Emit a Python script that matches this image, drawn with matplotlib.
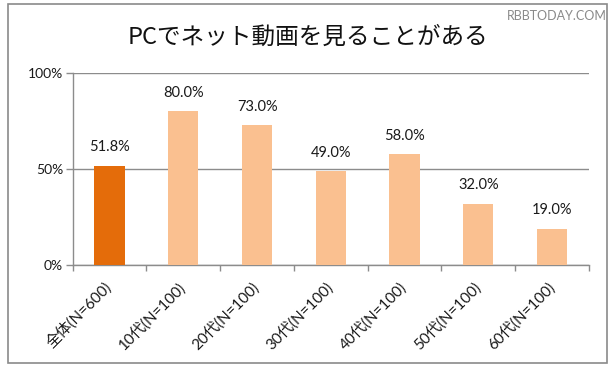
import numpy as np
import matplotlib.pyplot as plt
from matplotlib.patches import Rectangle

# data
categories = ['全体(N=600)', '10代(N=100)', '20代(N=100)', '30代(N=100)',
              '40代(N=100)', '50代(N=100)', '60代(N=100)']
values = [51.8, 80.0, 73.0, 49.0, 58.0, 32.0, 19.0]
yticks = [0, 50, 100]
ytick_labels = ['0%', '50%', '100%']
title = 'PCでネット動画を見ることがある'

plt.rcParams['font.family'] = ['Lato', 'Noto Sans CJK JP', 'DejaVu Sans']

W, H = 615, 370
fig = plt.figure(figsize=(W / 100, H / 100), dpi=100)
fig.patch.set_facecolor('white')

# outer frame of the chart
fig.patches.append(Rectangle((8 / W, 1 - 363 / H), (607 - 8) / W, (363 - 4) / H,
                             transform=fig.transFigure, fill=False,
                             edgecolor='#8a8a8a', linewidth=1.2))

ax = fig.add_axes([72.7 / W, 1 - 265 / H, (589 - 72.7) / W, (265 - 73) / H])

grid_col = '#8c8c8c'
colors = ['#E46C0A'] + ['#FAC090'] * (len(values) - 1)
x = np.arange(len(values))
bars = ax.bar(x, values, width=0.41, color=colors, zorder=3)

for b, v in zip(bars, values):
    ax.annotate('%.1f%%' % v, (b.get_x() + b.get_width() / 2, v),
                xytext=(0, 8), textcoords='offset points',
                ha='center', va='bottom', fontsize=10.5, color='#1a1a1a')

ax.set_xlim(-0.5, len(values) - 0.5)
ax.set_ylim(0, 100)
ax.set_yticks(yticks)
ax.set_yticklabels(ytick_labels, fontsize=10, color='#1a1a1a')
for yv in yticks:
    ax.axhline(yv, color=grid_col, linewidth=1, zorder=1)

# x ticks sit on the category boundaries, labels on the centres
ax.set_xticks(np.arange(len(values) + 1) - 0.5)
ax.set_xticklabels([])
ax.set_xticks(x, minor=True)
ax.set_xticklabels(categories, minor=True, rotation=45, ha='right', va='center',
                   rotation_mode='anchor', fontsize=11, color='#1a1a1a')
ax.tick_params(axis='x', which='major', length=4, color=grid_col, width=1)
ax.tick_params(axis='x', which='minor', length=0, pad=14)
ax.tick_params(axis='y', length=5, color=grid_col, width=1, pad=2)

for s in ['top', 'right']:
    ax.spines[s].set_visible(False)
for s in ['left', 'bottom']:
    ax.spines[s].set_color(grid_col)
    ax.spines[s].set_linewidth(1)

fig.text(308.5 / W, 1 - 37 / H, title, ha='center', va='center',
         fontsize=17, family=['Noto Sans CJK JP', 'DejaVu Sans'], color='#111111')
fig.text(607 / W, 1 - 16 / H, 'RBBTODAY.COM', ha='right', va='center',
         fontsize=9, color='#8a8a8a', family=['Lato', 'DejaVu Sans'])

fig.savefig('out.png', dpi=100)
